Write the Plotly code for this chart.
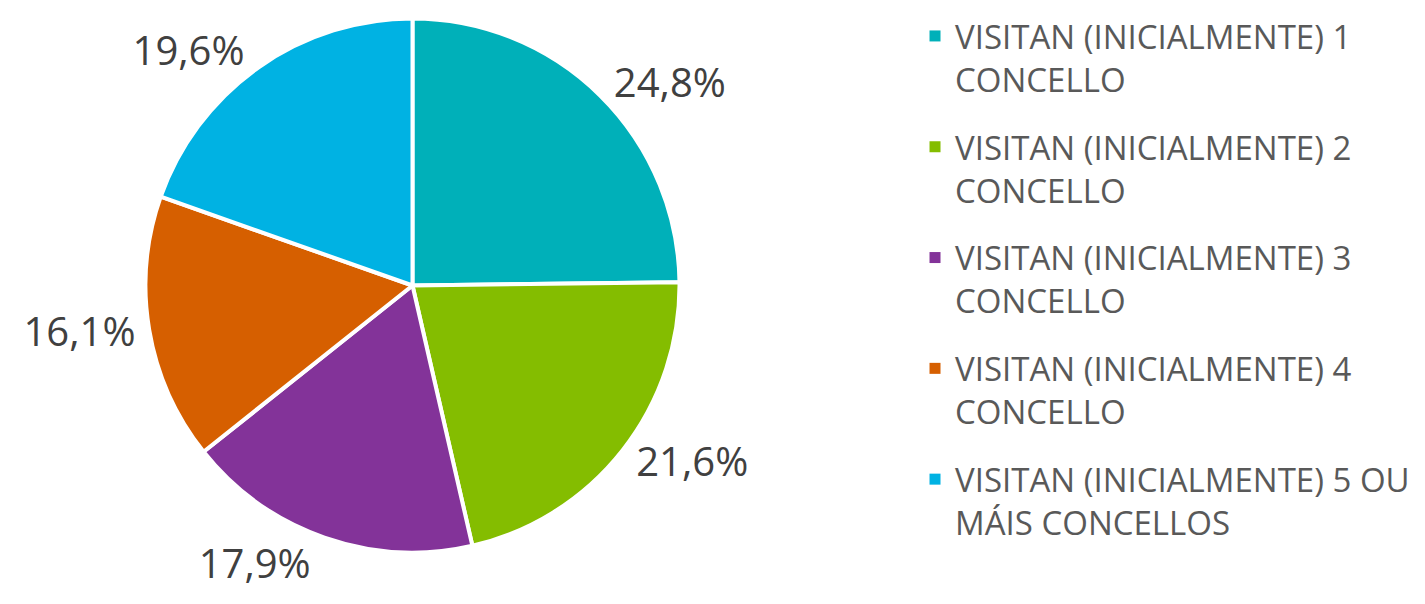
import plotly.graph_objects as go

categories = [
    "VISITAN (INICIALMENTE) 1<br>CONCELLO",
    "VISITAN (INICIALMENTE) 2<br>CONCELLO",
    "VISITAN (INICIALMENTE) 3<br>CONCELLO",
    "VISITAN (INICIALMENTE) 4<br>CONCELLO",
    "VISITAN (INICIALMENTE) 5 OU<br>MÁIS CONCELLOS",
]
values = [24.8, 21.6, 17.9, 16.1, 19.6]
value_labels = ["24,8%", "21,6%", "17,9%", "16,1%", "19,6%"]
colors = ["#00B0B9", "#84BD00", "#833399", "#D65F00", "#00B2E3"]

W, H = 1425, 604
cx, cy, r = 404.5, 277.5, 267

fig = go.Figure()
fig.add_trace(go.Pie(
    labels=categories,
    values=values,
    text=value_labels,
    textinfo="text",
    textposition="outside",
    sort=False,
    direction="clockwise",
    rotation=0,
    marker=dict(colors=colors, line=dict(color="white", width=4)),
    textfont=dict(family="Open Sans", size=40, color="#404040"),
    domain=dict(x=[(cx - r) / W, (cx + r) / W], y=[(H - cy - r) / H, (H - cy + r) / H]),
    hoverinfo="label+percent",
    showlegend=False,
))

# legend entries (one per category, matching the pie slices)
for name, col in zip(categories, colors):
    fig.add_trace(go.Scatter(
        x=[None], y=[None], mode="markers", name=name, legendgroup=name,
        marker=dict(symbol="square", size=11, color=col),
        hoverinfo="skip",
    ))

fig.update_layout(
    width=W, height=H,
    margin=dict(l=0, r=0, t=0, b=0),
    paper_bgcolor="white",
    plot_bgcolor="white",
    showlegend=True,
    xaxis=dict(visible=False),
    yaxis=dict(visible=False),
    legend=dict(
        x=0.6365, y=1.0, xanchor="left", yanchor="top",
        font=dict(family="Open Sans", size=33, color="#595959"),
        valign="top",
        itemwidth=30,
        tracegroupgap=22,
        traceorder="grouped",
    ),
)

fig.write_html("out.html")
